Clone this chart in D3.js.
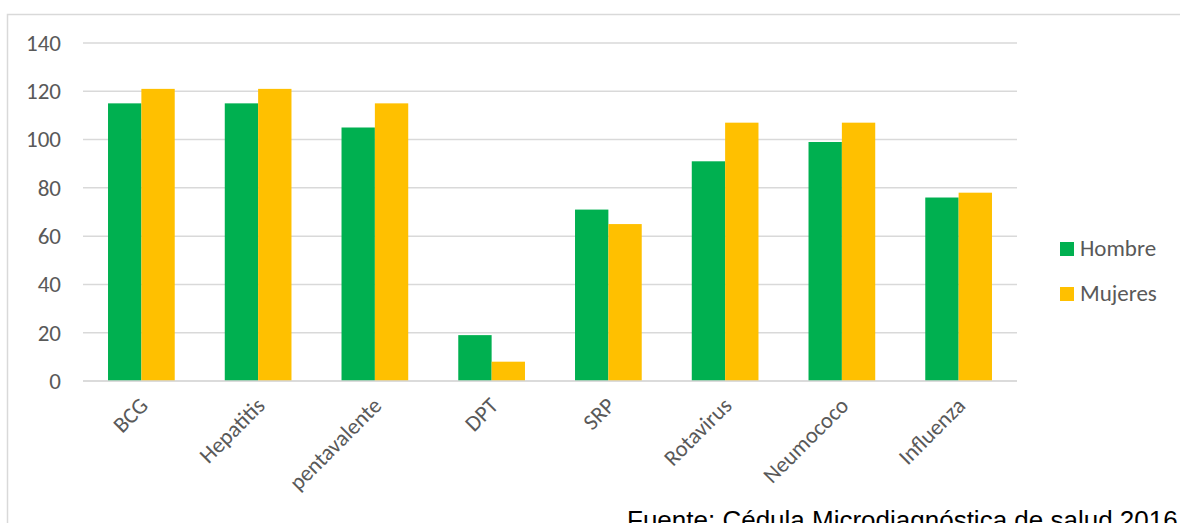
<!DOCTYPE html>
<html>
<head>
<meta charset="utf-8">
<script src="https://cdn.jsdelivr.net/npm/d3@7"></script>
<style>
  html, body { margin: 0; padding: 0; background: #fff; overflow: hidden; }
  svg { display: block; }
</style>
</head>
<body>
<div id="chart"></div>
<script>
const categories = ["BCG", "Hepatitis", "pentavalente", "DPT", "SRP", "Rotavirus", "Neumococo", "Influenza"];
const seriesNames = ["Hombre", "Mujeres"];
const hombre = [115, 115, 105, 19, 71, 91, 99, 76];
const mujeres = [121, 121, 115, 8, 65, 107, 107, 78];
const yTicks = [0, 20, 40, 60, 80, 100, 120, 140];
const colors = ["#00B050", "#FFC000"];
const sourceText = "Fuente: Cédula Microdiagnóstica de salud 2016";

const W = 1180, H = 523;
const labelFont = "Carlito, Calibri, 'Open Sans', sans-serif";
const svg = d3.select("#chart").append("svg").attr("width", W).attr("height", H);

// chart frame
svg.append("rect").attr("x", 7.5).attr("y", 14.5).attr("width", W + 20).attr("height", H + 20)
  .attr("fill", "none").attr("stroke", "#d9d9d9").attr("stroke-width", 1.5);

const x0 = d3.scaleBand().domain(categories).range([83, 1017]).paddingInner(1.5/3.5).paddingOuter(0.75/3.5);
const x1 = d3.scaleBand().domain(seriesNames).range([0, x0.bandwidth()]);
const y = d3.scaleLinear().domain([0, 140]).range([381, 43]);

// gridlines
svg.append("g").selectAll("line").data(yTicks).join("line")
  .attr("x1", 83).attr("x2", 1017)
  .attr("y1", d => y(d)).attr("y2", d => y(d))
  .attr("stroke", "#d9d9d9").attr("stroke-width", 1.5);

// y labels
const yAxis = d3.axisLeft(y).tickValues(yTicks).tickSize(0).tickPadding(0);
const gy = svg.append("g").attr("transform", "translate(61,0)").call(yAxis);
gy.select(".domain").remove();
gy.selectAll("text").attr("font-family", labelFont).attr("font-size", 23).attr("fill", "#595959");

// bars
const data = categories.map((c, i) => ({cat: c, vals: [hombre[i], mujeres[i]]}));
const groups = svg.append("g").selectAll("g").data(data).join("g")
  .attr("transform", d => `translate(${x0(d.cat)},0)`);
groups.selectAll("rect").data(d => d.vals.map((v, j) => ({name: seriesNames[j], v, j}))).join("rect")
  .attr("x", d => x1(d.name)).attr("width", x1.bandwidth())
  .attr("y", d => y(d.v)).attr("height", d => y(0) - y(d.v))
  .attr("fill", d => colors[d.j]);

// redraw baseline over bars
svg.append("line").attr("x1", 83).attr("x2", 1017).attr("y1", y(0)).attr("y2", y(0))
  .attr("stroke", "#d9d9d9").attr("stroke-width", 1.5);

// x labels
const xAxis = d3.axisBottom(x0).tickSize(0).tickPadding(0);
const gx = svg.append("g").attr("transform", `translate(0,${y(0)})`).call(xAxis);
gx.select(".domain").remove();
gx.selectAll("text")
  .attr("font-family", labelFont).attr("font-size", 22.5).attr("fill", "#595959")
  .attr("text-anchor", "end").attr("y", 0).attr("dy", 0)
  .attr("transform", "translate(8,26) rotate(-45)");

// legend
const leg = svg.append("g").selectAll("g").data(seriesNames).join("g")
  .attr("transform", (d, i) => `translate(1060,${242 + i * 45})`);
leg.append("rect").attr("width", 14).attr("height", 14).attr("fill", (d, i) => colors[i]);
leg.append("text").attr("x", 20).attr("y", 14).text(d => d)
  .attr("font-family", labelFont).attr("font-size", 23).attr("fill", "#595959");

// source
svg.append("text").attr("x", 627).attr("y", 529).text(sourceText)
  .attr("font-family", "'Liberation Sans', Arial, sans-serif").attr("font-size", 26).attr("fill", "#000");
</script>
</body>
</html>
